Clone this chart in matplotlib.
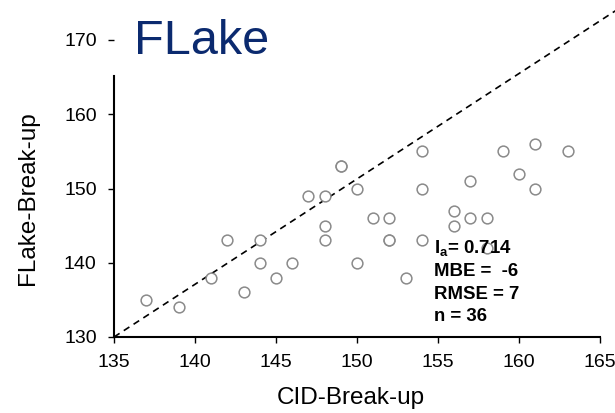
import matplotlib
matplotlib.use('Agg')
import matplotlib.pyplot as plt

# break-up dates: CID observations vs. FLake simulation (day of year)
cid_breakup = [137, 139, 141, 142, 143, 144, 144, 145, 146, 147, 148, 148,
               148, 149, 149, 150, 150, 151, 152, 152, 152, 153, 154, 154,
               154, 156, 156, 157, 157, 158, 158, 159, 160, 161, 161, 163]
flake_breakup = [135, 134, 138, 143, 136, 143, 140, 138, 140, 149, 149, 145,
                 143, 153, 153, 150, 140, 146, 146, 143, 143, 138, 155, 150,
                 143, 147, 145, 151, 146, 146, 142, 155, 152, 156, 150, 155]

# reference line drawn across the panel
ref_x = [135, 166]
ref_y = [130, 174]

x_ticks = [135, 140, 145, 150, 155, 160, 165]
y_ticks = [130, 140, 150, 160, 170]

stats_lines = [r'$\mathbf{I}_\mathbf{a}$= 0.714', 'MBE =  -6', 'RMSE = 7', 'n = 36']

plt.rcParams['font.family'] = ['Liberation Sans', 'DejaVu Sans']
plt.rcParams['mathtext.fontset'] = 'custom'
plt.rcParams['mathtext.rm'] = 'Liberation Sans'
plt.rcParams['mathtext.bf'] = 'Liberation Sans:bold'

fig = plt.figure(figsize=(6.15, 4.13), dpi=100)
ax = fig.add_axes([114 / 615, 1 - 337 / 413, (600 - 114) / 615, (337 - 40) / 413])

ax.plot(ref_x, ref_y, color='black', lw=1.2, linestyle=(0, (4, 3)),
        clip_on=False, zorder=2)
ax.scatter(cid_breakup, flake_breakup, s=60, facecolors='white',
           edgecolors='#8a8a8a', linewidths=1.1, zorder=3, clip_on=False)

ax.set_xlim(135, 165)
ax.set_ylim(130, 170)
ax.set_xticks(x_ticks)
ax.set_yticks(y_ticks)

for side in ['top', 'right']:
    ax.spines[side].set_visible(False)
ax.spines['left'].set_bounds(130, 165.2)
for side in ['left', 'bottom']:
    ax.spines[side].set_linewidth(1.5)
ax.tick_params(direction='out', length=4.5, width=1.0, labelsize=14, pad=8)

fig.text(351 / 615, 1 - 398 / 413, 'CID-Break-up', fontsize=17.5,
         ha='center', va='center')
fig.text(28 / 615, 1 - 198 / 413, 'FLake-Break-up', fontsize=17.5,
         rotation=90, ha='center', va='center')
fig.text(134 / 615, 1 - 54 / 413, 'FLake', fontsize=35, color='#0b2a6f',
         ha='left', va='baseline')

for i, line in enumerate(stats_lines):
    fig.text(434 / 615, 1 - (249 + 22.6 * i) / 413, line, fontsize=13.4,
             fontweight='bold', ha='left', va='center')

fig.savefig('out.png', dpi=100, facecolor='white')
